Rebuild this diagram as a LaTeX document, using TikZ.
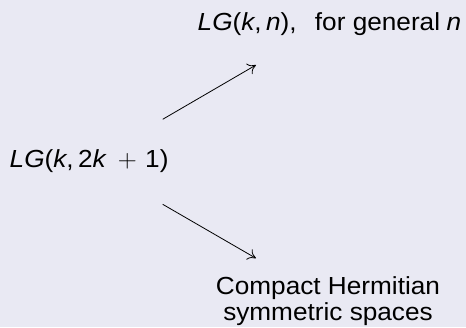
\documentclass[tikz,border=0pt]{standalone}
\usepackage{fontspec}
\setmainfont{Liberation Sans}
% math letters in sans oblique, the binary plus from the math font
\newcommand\mv[1]{\textit{#1}}
\usetikzlibrary{arrows.meta}
\definecolor{pagebg}{RGB}{233,233,243}
\begin{document}
\begin{tikzpicture}[x=1pt,y=1pt,
  label/.style={inner sep=0pt, transform shape, xscale=1.06,
    font=\fontsize{24.7}{25.6}\selectfont},
  mapsto/.style={line width=0.8pt, -{To[length=8pt,width=12pt]}}]
  \fill[pagebg] (0,0) rectangle (466,327);
  \useasboundingbox (0,0) rectangle (466,327);

  % the three spaces
  \node[label, anchor=base west] (sp) at (9.5,159)
    {\mv{LG}(\mv{k},\hspace{0.167em}2\mv{k}\hspace{0.42em}$+$\hspace{0.32em}1)};
  \node[label, anchor=base west] (gen) at (197.5,296)
    {\mv{LG}(\mv{k},\hspace{0.167em}\mv{n}),\hspace{0.7em}for general\hspace{0.25em}\mv{n}};
  \node[label, align=center, anchor=base] (herm) at (328,6.7)
    {Compact Hermitian\\symmetric spaces};

  % arrow end points
  \coordinate (a1) at (162.7,207.7);
  \coordinate (b1) at (256,262);
  \coordinate (a2) at (162.7,122.7);
  \coordinate (b2) at (256,68.7);

  \draw[mapsto] (a1) -- (b1);
  \draw[mapsto] (a2) -- (b2);
\end{tikzpicture}
\end{document}
